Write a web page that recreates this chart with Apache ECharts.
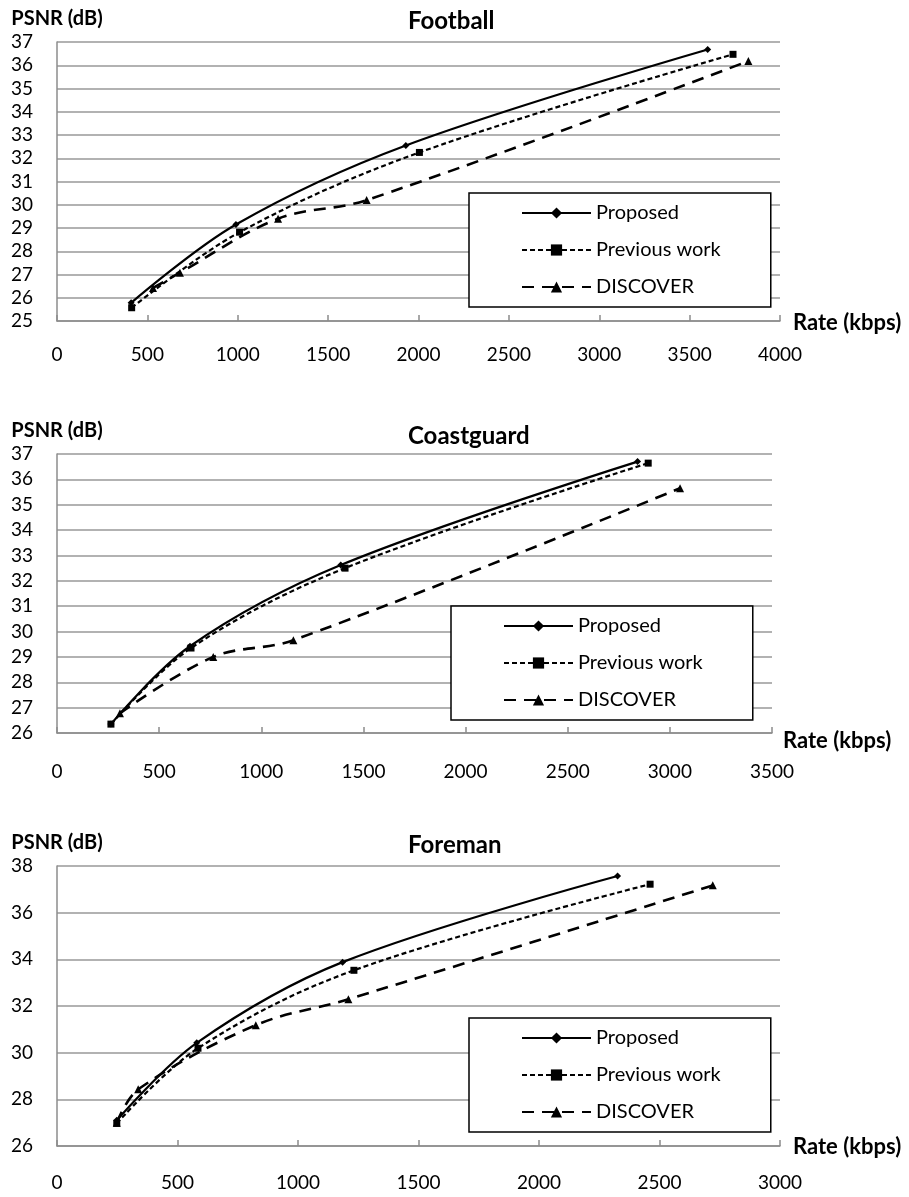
<!DOCTYPE html>
<html>
<head>
<meta charset="utf-8">
<script src="https://cdn.jsdelivr.net/npm/echarts@6/dist/echarts.min.js"></script>
<style>html,body{margin:0;padding:0;background:#fff}#c{width:909px;height:1197px}</style>
</head>
<body>
<div id="c"></div>
<script>
// ---- data ----
const chartTitles = ['Football', 'Coastguard', 'Foreman'];
const seriesNames = ['Proposed', 'Previous work', 'DISCOVER'];
const xAxisTitle = 'Rate (kbps)';
const yAxisTitle = 'PSNR (dB)';

const footballProposed = [[410, 25.78], [990, 29.15], [1930, 32.55], [3600, 36.68]];
const footballPrevious = [[413, 25.57], [1010, 28.82], [2005, 32.25], [3740, 36.47]];
const footballDiscover = [[531, 26.42], [680, 27.08], [1223, 29.4], [1713, 30.2], [3825, 36.18]];

const coastProposed = [[264, 26.35], [651, 29.42], [1389, 32.62], [2842, 36.7]];
const coastPrevious = [[264, 26.35], [656, 29.35], [1410, 32.5], [2894, 36.64]];
const coastDiscover = [[308, 26.78], [765, 29.0], [1157, 29.66], [3050, 35.65]];

const foremanProposed = [[248, 27.1], [580, 30.42], [1185, 33.88], [2326, 37.57]];
const foremanPrevious = [[248, 26.97], [585, 30.19], [1232, 33.53], [2461, 37.22]];
const foremanDiscover = [[248, 27.0], [337, 28.43], [825, 31.18], [1209, 32.29], [2721, 37.17]];

const xRanges = [[0, 4000, 500], [0, 3500, 500], [0, 3000, 500]];
const yRanges = [[25, 37, 1], [26, 37, 1], [26, 38, 2]];

const allData = [
  [footballProposed, footballPrevious, footballDiscover],
  [coastProposed, coastPrevious, coastDiscover],
  [foremanProposed, foremanPrevious, foremanDiscover]
];

// ---- layout / style ----
const FONT = 'Lato';
const grids = [
  {left: 57, top: 42, width: 723, height: 279},
  {left: 57, top: 454, width: 715, height: 279},
  {left: 57, top: 866, width: 723, height: 280}
];
const titleTops = [9, 424, 833];
const legendPos = [[469, 193], [451, 606], [469, 1018]];
const xLabelMargins = [24, 29, 27];
const xNamePos = [[793, 324], [783, 742], [793, 1148]];

const seriesStyles = [
  {symbol: 'diamond', symbolSize: 7, lineStyle: {type: 'solid', width: 2.2}},
  {symbol: 'rect', symbolSize: 7, lineStyle: {type: [5, 3], width: 2.2}},
  {symbol: 'triangle', symbolSize: 8, lineStyle: {type: [12, 8], width: 2.6}}
];

const option = {
  backgroundColor: '#fff',
  animation: false,
  textStyle: {fontFamily: FONT, color: '#000'},
  title: chartTitles.map((t, i) => ({
    text: t, left: 408, top: titleTops[i], padding: 0,
    textStyle: {fontFamily: FONT, fontWeight: 'bold', fontSize: 24, color: '#000'}
  })),
  grid: grids,
  graphic: xNamePos.map(p => ({
    type: 'text', left: p[0], top: p[1] - 12,
    style: {text: xAxisTitle, fontFamily: FONT, fontWeight: 'bold', fontSize: 22, fill: '#000'}
  })),
  legend: legendPos.map((p, i) => ({
    left: p[0], top: p[1], orient: 'vertical',
    data: seriesNames,
    itemWidth: 69, itemHeight: 14, itemGap: 17,
    padding: [10, 50, 10, 52],
    borderColor: '#000', borderWidth: 1.5,
    backgroundColor: '#fff',
    selectedMode: false,
    textStyle: {fontFamily: FONT, fontSize: 20, color: '#000'}
  })),
  xAxis: xRanges.map((r, i) => ({
    type: 'value', gridIndex: i, min: r[0], max: r[1], interval: r[2],
    axisLine: {show: true, lineStyle: {color: '#8c8c8c', width: 1.5}},
    axisTick: {show: true, inside: true, length: 6, lineStyle: {color: '#8c8c8c', width: 1.5}},
    axisLabel: {fontFamily: FONT, fontSize: 19, color: '#000', margin: xLabelMargins[i],
      formatter: v => String(v)},
    splitLine: {show: false}
  })),
  yAxis: yRanges.map((r, i) => ({
    type: 'value', gridIndex: i, min: r[0], max: r[1], interval: r[2],
    name: yAxisTitle, nameLocation: 'end', nameGap: 13,
    nameTextStyle: {fontFamily: FONT, fontWeight: 'bold', fontSize: 20, color: '#000'},
    axisLine: {show: true, lineStyle: {color: '#8c8c8c', width: 1.5}},
    axisTick: {show: false},
    axisLabel: {fontFamily: FONT, fontSize: 19, color: '#000', margin: 24},
    splitLine: {show: true, lineStyle: {color: '#999', width: 1.5}}
  })),
  series: []
};

allData.forEach((group, gi) => {
  group.forEach((d, si) => {
    const st = seriesStyles[si];
    option.series.push({
      type: 'line', name: seriesNames[si],
      xAxisIndex: gi, yAxisIndex: gi,
      data: d, smooth: 0.35,
      symbol: st.symbol, symbolSize: st.symbolSize,
      showAllSymbol: true,
      itemStyle: {color: '#000'},
      lineStyle: Object.assign({color: '#000'}, st.lineStyle),
      z: 3 - si
    });
  });
});

const chart = echarts.init(document.getElementById('c'), null, {renderer: 'canvas'});
chart.setOption(option);
</script>
</body>
</html>
